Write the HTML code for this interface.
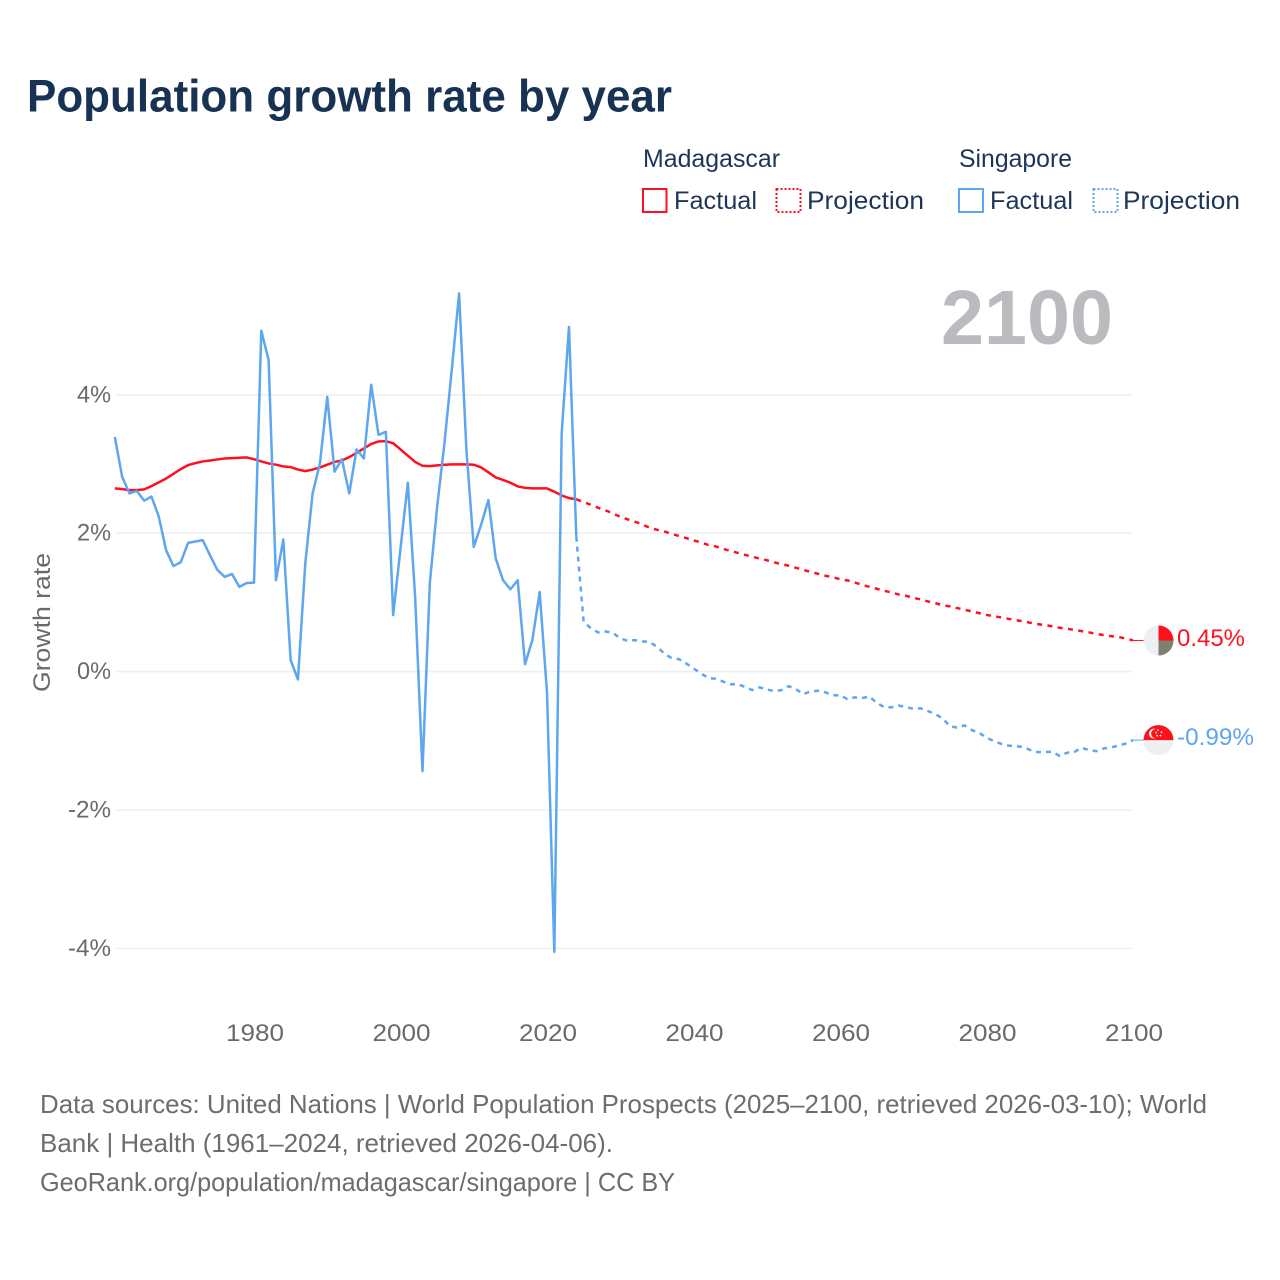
<!DOCTYPE html>
<html lang="en">
<head>
<meta charset="utf-8">
<title>Population growth rate by year</title>
<style>
html,body{margin:0;padding:0;background:#fff;}
svg{display:block;font-family:"Liberation Sans",sans-serif;}
</style>
</head>
<body>
<svg id="chart" xmlns="http://www.w3.org/2000/svg" width="1280" height="1280" viewBox="0 0 1280 1280">
  <rect x="0" y="0" width="1280" height="1280" fill="#ffffff"/>
  <text x="27" y="111.5" font-size="45" font-weight="bold" fill="#173252" textLength="645" lengthAdjust="spacingAndGlyphs">Population growth rate by year</text>

  <g font-size="25" fill="#1d3557">
    <text x="643" y="167" textLength="137" lengthAdjust="spacingAndGlyphs">Madagascar</text>
    <text x="959" y="167" textLength="113" lengthAdjust="spacingAndGlyphs">Singapore</text>
    <g>
      <rect x="643" y="189" width="23.5" height="23" fill="none" stroke="#ff1020" stroke-width="2"/>
      <text x="674" y="209" textLength="83" lengthAdjust="spacingAndGlyphs">Factual</text>
    </g>
    <g>
      <rect x="776.5" y="189" width="24" height="23" fill="none" stroke="#ff1020" stroke-width="2" stroke-dasharray="2 2"/>
      <text x="807" y="209" textLength="117" lengthAdjust="spacingAndGlyphs">Projection</text>
    </g>
    <g>
      <rect x="959" y="189" width="24" height="23" fill="none" stroke="#5ea6ee" stroke-width="2"/>
      <text x="990" y="209" textLength="83" lengthAdjust="spacingAndGlyphs">Factual</text>
    </g>
    <g>
      <rect x="1093.5" y="189" width="24" height="23" fill="none" stroke="#5ea6ee" stroke-width="2" stroke-dasharray="2 2"/>
      <text x="1123" y="209" textLength="117" lengthAdjust="spacingAndGlyphs">Projection</text>
    </g>
  </g>

  <text x="941" y="344" font-size="77" font-weight="bold" fill="#b9bbbe" textLength="172" lengthAdjust="spacingAndGlyphs">2100</text>

  <text transform="translate(50,692) rotate(-90)" font-size="24" fill="#6a6a6a" textLength="139" lengthAdjust="spacingAndGlyphs">Growth rate</text>

  <g id="grid"></g>
  <g id="yticks" font-size="24" fill="#6a6a6a"></g>
  <g id="xticks" font-size="24" fill="#6a6a6a"></g>
  <g id="series"></g>
  <g id="markers"></g>

  <g font-size="26" fill="#6d6d6d">
    <text x="40" y="1113" textLength="1167" lengthAdjust="spacingAndGlyphs">Data sources: United Nations | World Population Prospects (2025–2100, retrieved 2026-03-10); World</text>
    <text x="40" y="1152" textLength="573" lengthAdjust="spacingAndGlyphs">Bank | Health (1961–2024, retrieved 2026-04-06).</text>
    <text x="40" y="1191" textLength="635" lengthAdjust="spacingAndGlyphs">GeoRank.org/population/madagascar/singapore | CC BY</text>
  </g>
</svg>
<script>
const factualStartYear = 1961;
const projectionStartYear = 2024;
const xTickYears = [1980, 2000, 2020, 2040, 2060, 2080, 2100];
const yTickValues = [4, 2, 0, -2, -4];
const yTickLabels = ["4%", "2%", "0%", "-2%", "-4%"];
const madagascarFactual = [2.647,2.637,2.623,2.623,2.633,2.68,2.734,2.79,2.858,2.926,2.984,3.013,3.037,3.05,3.066,3.08,3.085,3.09,3.095,3.07,3.037,3.008,2.99,2.965,2.955,2.92,2.897,2.92,2.95,2.99,3.03,3.05,3.10,3.16,3.225,3.29,3.326,3.33,3.30,3.21,3.12,3.03,2.974,2.97,2.98,2.99,2.994,2.994,2.994,2.99,2.95,2.88,2.806,2.77,2.73,2.676,2.656,2.647,2.647,2.647,2.60,2.546,2.507,2.49];
const madagascarProjection = [2.49,2.45,2.41,2.367,2.33,2.286,2.237,2.2,2.165,2.127,2.08,2.05,2.025,1.99,1.96,1.93,1.896,1.867,1.83,1.81,1.775,1.745,1.717,1.688,1.66,1.635,1.61,1.58,1.553,1.53,1.5,1.47,1.44,1.413,1.385,1.365,1.335,1.318,1.289,1.254,1.225,1.197,1.168,1.144,1.115,1.095,1.067,1.043,1.014,0.99,0.96,0.942,0.918,0.893,0.87,0.845,0.82,0.80,0.783,0.763,0.744,0.725,0.705,0.686,0.672,0.653,0.633,0.618,0.604,0.585,0.566,0.546,0.527,0.513,0.50,0.48,0.45];
const singaporeFactual = [3.39,2.815,2.575,2.61,2.47,2.53,2.24,1.756,1.525,1.58,1.86,1.88,1.90,1.68,1.47,1.37,1.41,1.225,1.28,1.285,4.925,4.50,1.32,1.91,0.166,-0.113,1.56,2.575,3.01,3.97,2.89,3.07,2.575,3.21,3.08,4.145,3.42,3.465,0.816,1.78,2.73,1.08,-1.44,1.275,2.38,3.30,4.36,5.465,3.20,1.80,2.12,2.48,1.635,1.32,1.19,1.32,0.108,0.455,1.15,-0.30,-4.05,3.44,4.98,1.95];
const singaporeProjection = [1.95,0.72,0.624,0.566,0.58,0.56,0.48,0.445,0.455,0.436,0.43,0.36,0.263,0.195,0.18,0.118,0.046,-0.026,-0.09,-0.104,-0.142,-0.185,-0.18,-0.22,-0.267,-0.228,-0.257,-0.282,-0.267,-0.21,-0.257,-0.325,-0.286,-0.277,-0.30,-0.344,-0.34,-0.397,-0.373,-0.383,-0.36,-0.45,-0.513,-0.517,-0.49,-0.513,-0.537,-0.53,-0.57,-0.614,-0.676,-0.788,-0.81,-0.778,-0.845,-0.884,-0.956,-1.004,-1.043,-1.07,-1.077,-1.09,-1.134,-1.163,-1.16,-1.16,-1.22,-1.173,-1.16,-1.10,-1.134,-1.15,-1.11,-1.096,-1.07,-1.04,-0.99];
const endLabels = ["0.45%", "-0.99%"];

const NS = "http://www.w3.org/2000/svg";
const RED = "#ff1020";
const BLUE = "#5ea6ee";
function xScale(year) { return 254 + (year - 1980) * 7.325; }
function yScale(value) { return 671.6 - value * 69.2; }
function linePath(values, startYear) {
  return values.map(function (v, i) {
    return (i ? "L" : "M") + xScale(startYear + i).toFixed(2) + " " + yScale(v).toFixed(2);
  }).join("");
}
function make(tag, parent) {
  const el = document.createElementNS(NS, tag);
  parent.appendChild(el);
  return el;
}

const grid = document.getElementById("grid");
const yticks = document.getElementById("yticks");
yTickValues.forEach(function (v, i) {
  const ln = make("line", grid);
  
  
  ln.setAttribute("x1", 115);
  ln.setAttribute("x2", 1133);
  ln.setAttribute("y1", yScale(v));
  ln.setAttribute("y2", yScale(v));
  ln.setAttribute("stroke", "#eeeff1");
  ln.setAttribute("stroke-width", "1.6");
  const t = make("text", yticks);
  
  
  t.setAttribute("x", 111);
  t.setAttribute("y", yScale(v) + 7.5);
  t.setAttribute("text-anchor", "end");
  t.setAttribute("textLength", yTickLabels[i].length === 3 ? 43 : 34);
  t.setAttribute("lengthAdjust", "spacingAndGlyphs");
  t.textContent = yTickLabels[i];
});

const xticks = document.getElementById("xticks");
xTickYears.forEach(function (year) {
  const t = make("text", xticks);
  
  
  t.setAttribute("x", xScale(year) + 1);
  t.setAttribute("y", 1041);
  t.setAttribute("text-anchor", "middle");
  t.setAttribute("textLength", 58);
  t.setAttribute("lengthAdjust", "spacingAndGlyphs");
  t.textContent = String(year);
});

const series = document.getElementById("series");

const pMadProj = make("path", series);


pMadProj.setAttribute("d", linePath(madagascarProjection, projectionStartYear));
pMadProj.setAttribute("fill", "none");
pMadProj.setAttribute("stroke", RED);
pMadProj.setAttribute("stroke-width", "2.5");
pMadProj.setAttribute("stroke-dasharray", "5 5.4");

const pMadFact = make("path", series);


pMadFact.setAttribute("d", linePath(madagascarFactual, factualStartYear));
pMadFact.setAttribute("fill", "none");
pMadFact.setAttribute("stroke", RED);
pMadFact.setAttribute("stroke-width", "2.5");
pMadFact.setAttribute("stroke-linejoin", "round");

const pSgProj = make("path", series);


pSgProj.setAttribute("d", linePath(singaporeProjection, projectionStartYear));
pSgProj.setAttribute("fill", "none");
pSgProj.setAttribute("stroke", BLUE);
pSgProj.setAttribute("stroke-width", "2.5");
pSgProj.setAttribute("stroke-dasharray", "5 5");

const pSgFact = make("path", series);


pSgFact.setAttribute("d", linePath(singaporeFactual, factualStartYear));
pSgFact.setAttribute("fill", "none");
pSgFact.setAttribute("stroke", BLUE);
pSgFact.setAttribute("stroke-width", "2.5");
pSgFact.setAttribute("stroke-linejoin", "round");

const markers = document.getElementById("markers");
const endX = xScale(2100);
const flagX = 1158.5;
const madY = yScale(madagascarProjection[madagascarProjection.length - 1]);
const sgY = yScale(singaporeProjection[singaporeProjection.length - 1]);

function connector(y, color) {
  const c = make("line", markers);
  
  
  c.setAttribute("x1", endX);
  c.setAttribute("x2", flagX - 15);
  c.setAttribute("y1", y);
  c.setAttribute("y2", y);
  c.setAttribute("stroke", color);
  c.setAttribute("stroke-width", "1");
}
connector(madY, RED);
connector(sgY, BLUE);

const madFlag = make("g", markers);


madFlag.setAttribute("transform", "translate(" + flagX + "," + madY + ")");
madFlag.innerHTML = '<circle r="15" fill="#eeeff1"/><path d="M0 0V-15A15 15 0 0 1 15 0Z" fill="#fc111c"/><path d="M0 0H15A15 15 0 0 1 0 15Z" fill="#7b8070"/>';

const sgFlag = make("g", markers);


sgFlag.setAttribute("transform", "translate(" + flagX + "," + sgY + ")");
sgFlag.innerHTML = '<circle r="15" fill="#eeeff1"/><path d="M-15 0A15 15 0 0 1 15 0Z" fill="#fc111c"/><circle cx="-4.5" cy="-6.5" r="5" fill="#f6f6f6"/><circle cx="-2.8" cy="-6.5" r="4.6" fill="#fc111c"/><g fill="#f6f6f6"><circle cx="-0.5" cy="-10" r=".9"/><circle cx="3" cy="-8" r=".9"/><circle cx="2" cy="-4.5" r=".9"/><circle cx="-1.5" cy="-4.5" r=".9"/><circle cx="-2.5" cy="-7.5" r=".8"/></g>';

const madLabel = make("text", markers);


madLabel.setAttribute("x", 1177);
madLabel.setAttribute("y", madY + 5.5);
madLabel.setAttribute("font-size", "24");
madLabel.setAttribute("fill", RED);
madLabel.setAttribute("textLength", 68);
madLabel.setAttribute("lengthAdjust", "spacingAndGlyphs");
madLabel.textContent = endLabels[0];

const sgLabel = make("text", markers);


sgLabel.setAttribute("x", 1177);
sgLabel.setAttribute("y", sgY + 5);
sgLabel.setAttribute("font-size", "24");
sgLabel.setAttribute("fill", BLUE);
sgLabel.setAttribute("textLength", 77);
sgLabel.setAttribute("lengthAdjust", "spacingAndGlyphs");
sgLabel.textContent = endLabels[1];
</script>
</body>
</html>
